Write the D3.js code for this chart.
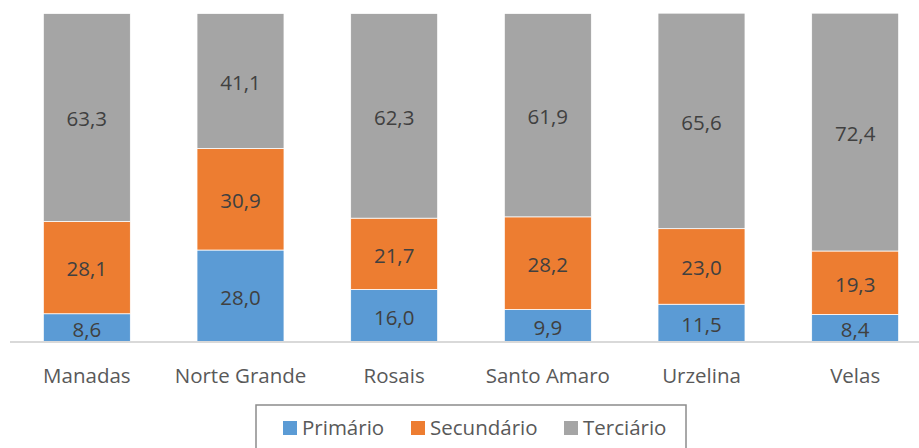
<!doctype html>
<html lang="pt">
  <head>
    <meta charset="UTF-8" />
    <title>Sectores por freguesia</title>
    <script src="https://d3js.org/d3.v7.min.js"></script>
    <style>
      body {
        margin: 0;
        background: #fff;
      }
      svg {
        display: block;
        font-family: "Open Sans", sans-serif;
      }
    </style>
  </head>
  <body>
    <svg width="919" height="448"></svg>

    <script>
      const categories = ["Manadas", "Norte Grande", "Rosais", "Santo Amaro", "Urzelina", "Velas"];
      const primario = [8.6, 28.0, 16.0, 9.9, 11.5, 8.4];
      const secundario = [28.1, 30.9, 21.7, 28.2, 23.0, 19.3];
      const terciario = [63.3, 41.1, 62.3, 61.9, 65.6, 72.4];
      const seriesNames = ["Primário", "Secundário", "Terciário"];
      const seriesColors = ["#5B9BD5", "#ED7D31", "#A5A5A5"];

      const svg = d3.select("svg");
      const fontSize = 20.5;

      const rows = categories.map((c, i) => ({
        cat: c,
        "Primário": primario[i],
        "Secundário": secundario[i],
        "Terciário": terciario[i],
      }));

      const x = d3
        .scaleBand()
        .domain(categories)
        .range([10, 932])
        .paddingInner(0.434)
        .paddingOuter(0.217);
      const y = d3.scaleLinear().domain([0, 100]).range([342, 13.5]);
      const color = d3.scaleOrdinal().domain(seriesNames).range(seriesColors);

      const layers = d3.stack().keys(seriesNames)(rows);

      const g = svg.append("g");
      const layerG = g
        .selectAll(".layer")
        .data(layers)
        .enter()
        .append("g")
        .attr("class", "layer")
        .attr("fill", (d) => color(d.key));

      layerG
        .selectAll("rect")
        .data((d) => d)
        .enter()
        .append("rect")
        .attr("x", (d) => x(d.data.cat))
        .attr("width", x.bandwidth())
        .attr("y", (d) => y(d[1]))
        .attr("height", (d) => y(d[0]) - y(d[1]))
        .attr("stroke", "#fff")
        .attr("stroke-width", 0.75);

      // data labels
      layerG
        .selectAll("text")
        .data((d) => d)
        .enter()
        .append("text")
        .attr("x", (d) => x(d.data.cat) + x.bandwidth() / 2)
        .attr("y", (d) => (y(d[0]) + y(d[1])) / 2 + 1.5)
        .attr("dy", "0.36em")
        .attr("text-anchor", "middle")
        .attr("fill", "#404040")
        .style("font-size", fontSize + "px")
        .text((d) => (d[1] - d[0]).toFixed(1).replace(".", ","));

      // x axis
      const xAxis = g
        .append("g")
        .attr("transform", "translate(0,342)")
        .call(d3.axisBottom(x).tickSize(0).tickPadding(0));
      xAxis.select(".domain").remove();
      xAxis
        .append("line")
        .attr("x1", 10)
        .attr("x2", 932)
        .attr("stroke", "#D9D9D9")
        .attr("stroke-width", 2);
      xAxis
        .selectAll(".tick text")
        .attr("y", 41)
        .attr("dy", 0)
        .attr("fill", "#595959")
        .style("font-size", fontSize + "px")
        .style("font-family", "'Open Sans', sans-serif");

      // legend
      const legend = svg.append("g");
      legend
        .append("rect")
        .attr("x", 256)
        .attr("y", 405)
        .attr("width", 430)
        .attr("height", 50)
        .attr("fill", "none")
        .attr("stroke", "#8c8c8c")
        .attr("stroke-width", 1.5);

      const legendX = [283, 411, 564];
      const item = legend
        .selectAll(".item")
        .data(seriesNames)
        .enter()
        .append("g")
        .attr("class", "item")
        .attr("transform", (d, i) => `translate(${legendX[i]},0)`);
      item
        .append("rect")
        .attr("x", 0)
        .attr("y", 421)
        .attr("width", 14)
        .attr("height", 14)
        .attr("fill", (d) => color(d));
      item
        .append("text")
        .attr("x", 19)
        .attr("y", 435)
        .attr("fill", "#595959")
        .style("font-size", fontSize + "px")
        .text((d) => d);
    </script>
  </body>
</html>
